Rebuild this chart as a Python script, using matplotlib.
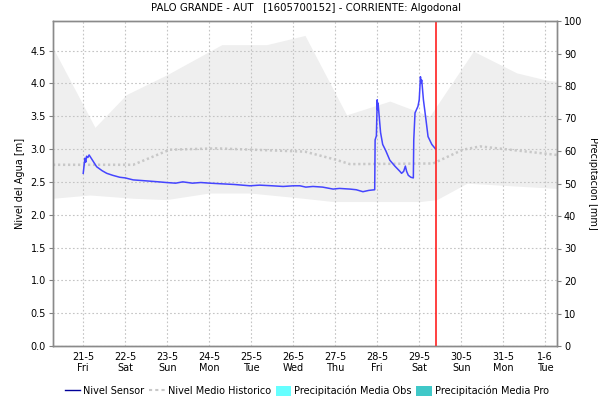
import matplotlib

matplotlib.use("Agg")
import matplotlib.pyplot as plt
from matplotlib.lines import Line2D
from matplotlib.patches import Patch

plt.rcParams["font.family"] = ["DejaVu Sans"]

# days counted from 21-5 00:00
TICK_DAYS = list(range(12))
TICK_LABELS = [
    "21-5\nFri", "22-5\nSat", "23-5\nSun", "24-5\nMon", "25-5\nTue", "26-5\nWed",
    "27-5\nThu", "28-5\nFri", "29-5\nSat", "30-5\nSun", "31-5\nMon", "1-6\nTue",
]

# historic envelope (max / min) of water level, m
band_days = [-0.72, 0.28, 1.03, 1.99, 3.3, 4.37, 5.28, 6.27, 7.3, 8.25, 9.29, 10.32, 11.03, 11.28]
band_max = [4.54, 3.33, 3.83, 4.13, 4.59, 4.59, 4.73, 3.52, 3.73, 3.50, 4.49, 4.16, 4.05, 4.03]
band_min_days = [-0.72, 0.16, 1.19, 1.98, 3.0, 3.97, 5.24, 5.95, 8.02, 8.42, 9.14, 9.92, 11.28]
band_min = [2.25, 2.30, 2.25, 2.23, 2.33, 2.33, 2.25, 2.20, 2.20, 2.23, 2.48, 2.45, 2.40]

# historic mean level, m
mean_days = [-0.72, 1.19, 2.06, 3.18, 5.28, 6.0, 6.35, 8.33, 9.04, 9.45, 11.28]
mean_level = [2.76, 2.76, 2.99, 3.01, 2.96, 2.84, 2.77, 2.78, 2.99, 3.04, 2.91]

# sensor level, m
sensor_days = [
    0.0, 0.04, 0.06, 0.08, 0.11, 0.14, 0.2, 0.32, 0.45, 0.56, 0.7, 0.87, 1.0,
    1.19, 1.4, 1.6, 1.8, 1.98, 2.2, 2.37, 2.6, 2.8, 3.02, 3.3, 3.6, 3.97,
    4.2, 4.5, 4.76, 5.0, 5.16, 5.3, 5.47, 5.7, 5.95, 6.1, 6.35, 6.5, 6.66,
    6.8, 6.94, 6.95, 6.98, 7.0, 7.01, 7.02, 7.04, 7.08, 7.13, 7.2, 7.3,
    7.42, 7.54, 7.58, 7.63, 7.67, 7.7, 7.74, 7.8, 7.86, 7.87, 7.9, 7.97,
    8.0, 8.03, 8.04, 8.06, 8.1, 8.16, 8.21, 8.3, 8.39,
]
sensor_level = [
    2.63, 2.86, 2.80, 2.89, 2.87, 2.91, 2.85, 2.73, 2.67, 2.63, 2.60, 2.57, 2.56,
    2.53, 2.52, 2.51, 2.50, 2.49, 2.48, 2.50, 2.48, 2.49, 2.48, 2.47, 2.46, 2.44,
    2.45, 2.44, 2.43, 2.44, 2.44, 2.42, 2.43, 2.42, 2.39, 2.40, 2.39, 2.38, 2.35,
    2.37, 2.38, 3.14, 3.20, 3.75, 3.60, 3.70, 3.55, 3.25, 3.07, 2.98, 2.83,
    2.74, 2.66, 2.63, 2.66, 2.74, 2.66, 2.60, 2.57, 2.56, 3.14, 3.55, 3.65,
    3.75, 4.10, 4.00, 4.05, 3.75, 3.45, 3.19, 3.07, 3.00,
]

NOW_DAY = 8.40

fig = plt.figure(figsize=(5.98, 4.0), dpi=100)
ax = fig.add_axes([0.0886, 0.135, 0.8428, 0.8125])
ax2 = ax.twinx()

ax.fill_between(band_days, band_max, 0, color="#efefef", lw=0, zorder=1)
ax.fill_between(band_min_days, band_min, 0, color="white", lw=0, zorder=1)
ax.plot(mean_days, mean_level, color="#c8c8c8", lw=1.8, ls=(0, (0.9, 1.1)), zorder=2)
ax.plot(sensor_days, sensor_level, color="#4545ff", lw=1.1, zorder=3)
ax.axvline(NOW_DAY, color="#ff2020", lw=1.2, zorder=4)

ax.set_xlim(-0.72, 11.28)
ax.set_ylim(0, 4.95)
ax.set_yticks([0.5 * i for i in range(10)])
ax.set_yticklabels([f"{0.5 * i:.1f}" for i in range(10)])
ax.set_xticks(TICK_DAYS)
ax.set_xticklabels(TICK_LABELS)
ax.grid(True, color="#c4c4c4", ls=(0, (1.5, 2)), lw=0.8)
ax.set_axisbelow(False)
ax.tick_params(axis="both", labelsize=7, length=3, color="#808080", pad=2)
ax.tick_params(axis="x", length=0, pad=4)

ax2.set_ylim(0, 100)
ax2.set_yticks(range(0, 101, 10))
ax2.tick_params(axis="y", labelsize=7, length=3, color="#808080", pad=2)

for a in (ax, ax2):
    for side in ("left", "right", "top", "bottom"):
        a.spines[side].set_color("#8a8a8a")
        a.spines[side].set_linewidth(1.0)

ax.set_ylabel("Nivel del Agua [m]", fontsize=7, labelpad=4)
ax2.set_ylabel("Precipitación [mm]", fontsize=7, rotation=270, labelpad=12)

fig.suptitle(
    "PALO GRANDE - AUT   [1605700152] - CORRIENTE: Algodonal",
    fontsize=7.3, x=0.512, y=0.993,
)

handles = [
    Line2D([0], [0], color="#000099", lw=1.0, label="Nivel Sensor"),
    Line2D([0], [0], color="#c8c8c8", lw=1.5, ls=(0, (1.5, 1.5)), label="Nivel Medio Historico"),
    Patch(facecolor="#66ffff", edgecolor="none", label="Precipitación Media Obs"),
    Patch(facecolor="#40c8c8", edgecolor="none", label="Precipitación Media Pro"),
]
fig.legend(
    handles=handles,
    loc="center",
    bbox_to_anchor=(0.513, 0.022),
    ncol=4,
    frameon=False,
    fontsize=7,
    handlelength=1.6,
    handleheight=1.2,
    handletextpad=0.3,
    columnspacing=0.5,
)

fig.savefig("out.png", dpi=100)
